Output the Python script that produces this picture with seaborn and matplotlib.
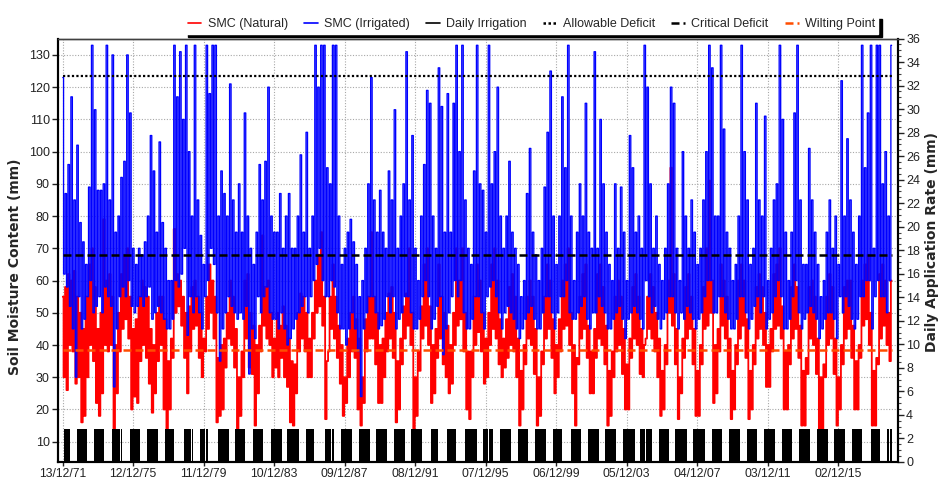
import numpy as np
import pandas as pd
import matplotlib
matplotlib.use("Agg")
import matplotlib.pyplot as plt
import matplotlib.dates as mdates
from matplotlib.lines import Line2D
from matplotlib.ticker import MultipleLocator
import seaborn as sns

# Monthly soil moisture readings (mm).
# First value is Dec 1971, then Jan..Dec for every year.
smc_irrigated_70s = [123,
    62, 87, 58, 96, 52, 117, 45, 85, 30, 102, 55, 78,    # 1972
    45, 72, 48, 65, 55, 89, 60, 133, 50, 113, 52, 88,    # 1973
    55, 88, 50, 90, 58, 133, 55, 85, 52, 130, 27, 75,    # 1974
    45, 80, 55, 92, 58, 97, 55, 130, 60, 112, 52, 70,    # 1975
    50, 65, 52, 70, 55, 68, 52, 72, 55, 80, 58, 105,     # 1976
    48, 94, 50, 75, 52, 103, 50, 78, 48, 70, 45, 60,     # 1977
    45, 60, 48, 133, 60, 117, 58, 131, 62, 110, 70, 133, # 1978
    43, 100, 55, 80, 50, 133, 55, 85, 50, 74, 45, 65]    # 1979
smc_irrigated_80s = [
    55, 133, 60, 118, 70, 133, 65, 133, 50, 80, 35, 94,
    45, 87, 50, 80, 55, 121, 52, 85, 50, 75, 48, 90,
    50, 75, 48, 112, 52, 80, 31, 70, 45, 65, 42, 75,
    55, 96, 50, 85, 55, 97, 58, 120, 50, 80, 48, 75,
    48, 75, 45, 87, 50, 70, 45, 80, 40, 87, 42, 70,
    45, 70, 48, 80, 50, 99, 52, 75, 55, 106, 50, 70,
    55, 80, 60, 133, 65, 120, 70, 133, 60, 133, 55, 95,
    55, 90, 60, 133, 58, 133, 50, 80, 45, 65, 45, 70,
    40, 75, 45, 79, 50, 72, 45, 65, 38, 55, 24, 60,
    45, 70, 50, 90, 55, 123, 55, 85, 50, 75, 45, 88]
smc_irrigated_90s = [
    46, 75, 48, 70, 55, 94, 50, 85, 55, 113, 45, 70,
    48, 80, 50, 90, 55, 131, 55, 85, 50, 105, 45, 70,
    45, 60, 48, 80, 55, 96, 60, 119, 55, 115, 45, 80,
    48, 70, 52, 126, 55, 114, 37, 75, 45, 118, 50, 75,
    55, 115, 60, 133, 55, 100, 60, 133, 50, 85, 45, 70,
    45, 65, 48, 94, 55, 133, 55, 90, 50, 88, 45, 75,
    55, 133, 58, 90, 60, 100, 55, 120, 50, 80, 45, 70,
    50, 80, 52, 97, 50, 75, 48, 70, 45, 65, 42, 55,
    45, 60, 48, 87, 50, 101, 52, 75, 48, 68, 45, 60,
    45, 70, 50, 89, 55, 106, 55, 125, 50, 80, 45, 65]
smc_irrigated_00s = [
    50, 80, 55, 117, 55, 95, 60, 133, 50, 80, 48, 60,
    48, 75, 50, 90, 52, 80, 55, 115, 48, 75, 45, 70,
    50, 131, 50, 70, 55, 110, 52, 90, 50, 75, 45, 65,
    45, 60, 48, 90, 50, 70, 52, 89, 48, 75, 42, 60,
    48, 105, 50, 95, 52, 75, 50, 80, 48, 70, 45, 133,
    60, 120, 55, 90, 50, 70, 52, 80, 48, 65, 45, 60,
    48, 70, 50, 90, 55, 120, 55, 115, 50, 70, 45, 60,
    50, 100, 48, 80, 52, 70, 50, 85, 48, 75, 45, 65,
    48, 70, 50, 85, 55, 100, 60, 133, 60, 126, 50, 80,
    50, 80, 55, 133, 55, 107, 50, 75, 48, 70, 45, 60]
smc_irrigated_10s = [
    45, 65, 48, 80, 55, 133, 55, 100, 50, 85, 45, 65,
    48, 70, 52, 115, 55, 85, 50, 80, 55, 111, 45, 60,
    48, 70, 50, 85, 55, 90, 60, 133, 55, 110, 45, 75,
    45, 60, 48, 75, 55, 112, 60, 133, 50, 85, 45, 65,
    48, 65, 50, 101, 52, 85, 50, 75, 48, 65, 42, 55,
    45, 60, 48, 75, 50, 85, 50, 70, 48, 80, 42, 65,
    55, 122, 50, 80, 55, 104, 52, 85, 48, 75, 45, 65,
    48, 80, 55, 133, 55, 95, 60, 112, 60, 133, 45, 70,
    55, 133, 60, 133, 55, 90, 55, 100, 50, 80, 60, 133]

smc_natural_70s = [55,
    30, 58, 26, 62, 40, 60, 38, 63, 28, 55, 30, 50,
    16, 45, 18, 55, 30, 65, 40, 70, 35, 58, 22, 45,
    18, 50, 25, 79, 40, 60, 38, 62, 40, 55, 14, 40,
    25, 50, 38, 62, 45, 68, 48, 70, 42, 55, 20, 45,
    24, 48, 22, 55, 35, 60, 40, 58, 36, 55, 28, 45,
    19, 40, 25, 50, 35, 55, 40, 55, 20, 48, 14, 35,
    20, 42, 36, 76, 50, 62, 52, 60, 46, 55, 36, 50,
    25, 52, 38, 58, 45, 60, 46, 55, 36, 50, 30, 42]
smc_natural_80s = [
    38, 55, 45, 65, 50, 60, 42, 55, 16, 36, 18, 40,
    20, 42, 33, 50, 42, 60, 40, 55, 33, 45, 14, 30,
    18, 38, 30, 60, 42, 62, 33, 50, 31, 46, 15, 40,
    25, 46, 38, 74, 46, 58, 42, 60, 40, 50, 30, 42,
    33, 50, 30, 46, 36, 52, 30, 46, 27, 42, 16, 35,
    15, 34, 25, 50, 38, 56, 42, 55, 38, 50, 30, 42,
    30, 50, 42, 60, 50, 68, 52, 75, 46, 55, 17, 35,
    38, 55, 45, 65, 42, 55, 36, 46, 28, 40, 18, 30,
    22, 42, 30, 50, 38, 55, 36, 48, 20, 42, 15, 30,
    22, 48, 38, 55, 42, 75, 42, 55, 34, 50, 22, 40]
smc_natural_90s = [
    22, 42, 30, 50, 38, 56, 42, 58, 36, 50, 16, 35,
    20, 42, 34, 52, 42, 56, 46, 70, 40, 50, 14, 30,
    18, 38, 32, 52, 42, 65, 46, 70, 40, 52, 22, 40,
    25, 45, 36, 65, 42, 55, 34, 50, 30, 46, 25, 40,
    28, 50, 40, 70, 46, 60, 48, 70, 38, 50, 20, 38,
    17, 38, 30, 55, 40, 65, 44, 60, 38, 50, 28, 42,
    30, 50, 40, 65, 45, 70, 42, 60, 34, 48, 30, 42,
    33, 48, 36, 58, 40, 62, 38, 55, 30, 42, 15, 32,
    20, 40, 34, 55, 42, 60, 40, 55, 31, 45, 15, 30,
    18, 38, 34, 55, 42, 65, 45, 60, 36, 48, 25, 40]
smc_natural_00s = [
    30, 48, 38, 60, 45, 65, 46, 70, 40, 50, 25, 40,
    15, 36, 34, 55, 42, 62, 45, 65, 36, 46, 25, 38,
    25, 45, 36, 62, 42, 65, 40, 58, 34, 46, 15, 32,
    18, 38, 30, 55, 38, 60, 40, 55, 31, 45, 20, 34,
    20, 42, 36, 58, 42, 62, 40, 55, 31, 45, 30, 40,
    42, 55, 45, 62, 42, 58, 38, 50, 30, 42, 18, 32,
    20, 40, 34, 60, 50, 95, 46, 62, 34, 45, 17, 30,
    25, 42, 36, 58, 42, 62, 45, 55, 34, 45, 18, 32,
    18, 40, 34, 58, 45, 70, 46, 91, 50, 60, 22, 40,
    25, 45, 38, 65, 46, 60, 42, 55, 30, 42, 17, 32]
smc_natural_10s = [
    20, 40, 34, 60, 42, 65, 46, 60, 36, 48, 17, 32,
    20, 40, 34, 58, 42, 62, 45, 58, 40, 50, 27, 40,
    27, 45, 38, 62, 45, 65, 46, 70, 42, 52, 20, 38,
    20, 40, 34, 58, 42, 65, 45, 58, 36, 46, 15, 32,
    15, 36, 31, 58, 42, 60, 40, 55, 31, 42, 14, 30,
    14, 34, 30, 55, 40, 62, 42, 58, 31, 42, 15, 30,
    20, 40, 34, 58, 42, 60, 45, 60, 36, 46, 20, 35,
    20, 40, 36, 60, 46, 65, 48, 68, 40, 50, 15, 32,
    15, 36, 34, 62, 42, 65, 46, 60, 40, 50, 35, 60]

# irrigation seasons (decimal years) and daily application (mm)
irrigation_start = [1972.04, 1972.74, 1973.71, 1974.74, 1975.27, 1975.77, 1976.75,
                    1977.77, 1978.81, 1979.30, 1979.75, 1980.08, 1980.74, 1981.74,
                    1982.72, 1983.78, 1984.69, 1985.73, 1986.82, 1987.20, 1987.73,
                    1988.77, 1989.73, 1990.76, 1991.70, 1992.82, 1993.73, 1994.75,
                    1995.79, 1996.14, 1996.73, 1997.75, 1998.72, 1999.77, 2000.78,
                    2001.74, 2002.72, 2003.74, 2004.71, 2005.03, 2005.75, 2006.69,
                    2007.71, 2008.76, 2009.74, 2010.76, 2011.72, 2012.74, 2013.71,
                    2014.73, 2015.71, 2016.71, 2017.77, 2018.72, 2018.87]
irrigation_end = [1972.36, 1973.33, 1974.31, 1975.20, 1975.31, 1976.33, 1977.37,
                  1978.28, 1979.22, 1979.36, 1980.00, 1980.21, 1981.36, 1982.27,
                  1983.33, 1984.37, 1985.35, 1986.20, 1987.15, 1987.34, 1988.37,
                  1989.36, 1990.36, 1991.35, 1992.34, 1993.25, 1994.24, 1995.45,
                  1996.07, 1996.34, 1997.37, 1998.34, 1999.36, 2000.27, 2001.36,
                  2002.36, 2003.35, 2004.39, 2004.96, 2005.37, 2006.35, 2007.34,
                  2008.38, 2009.36, 2010.36, 2011.34, 2012.33, 2013.33, 2014.31,
                  2015.33, 2016.32, 2017.26, 2018.30, 2018.83, 2018.98]
irrigation_rate = 2.8

allowable_deficit = 123.5
critical_deficit = 68.0
wilting_point = 38.3

first_day = "1971-12-13"
last_day = "2018-12-24"


def dec_year_to_num(y):
    yr = int(y)
    d = pd.Timestamp(yr, 1, 1) + pd.Timedelta(days=(y - yr) * 365.25)
    return mdates.date2num(d)


smc_irr = np.array(smc_irrigated_70s + smc_irrigated_80s + smc_irrigated_90s
                   + smc_irrigated_00s + smc_irrigated_10s, dtype=float)
smc_nat = np.array(smc_natural_70s + smc_natural_80s + smc_natural_90s
                   + smc_natural_00s + smc_natural_10s, dtype=float)
months = pd.date_range("1971-12-01", periods=len(smc_irr), freq="MS") + pd.Timedelta(days=14)
df = pd.DataFrame({"date": mdates.date2num(months), "natural": smc_nat, "irrigated": smc_irr})

sns.set_style("white")
plt.rcParams["font.family"] = ["Liberation Sans", "DejaVu Sans"]

fig = plt.figure(figsize=(9.39, 4.79), dpi=100)
ax = fig.add_axes([0.0618, 0.0355, 0.8943, 0.8841])
ax2 = ax.twinx()

ax.grid(True, color="#a8a8a8", linestyle=(0, (1, 1.5)), linewidth=0.8, zorder=0)

sns.lineplot(data=df, x="date", y="natural", ax=ax, color="#ff0000", linewidth=1.3,
             estimator=None, sort=False, drawstyle="steps-mid", zorder=2)
sns.lineplot(data=df, x="date", y="irrigated", ax=ax, color="#0000ff", linewidth=0.95,
             estimator=None, sort=False, drawstyle="steps-mid", zorder=3)

x0 = mdates.date2num(pd.Timestamp(first_day))
x1 = mdates.date2num(pd.Timestamp(last_day))
ax.plot([x0, x1], [allowable_deficit] * 2, color="black", linestyle=(0, (1, 1)), linewidth=1.6, zorder=4)
ax.plot([x0, x1], [critical_deficit] * 2, color="black", linestyle=(0, (3.2, 1.6)), linewidth=1.8, zorder=4)
ax.plot([x0, x1], [wilting_point] * 2, color="#ff4d00", linestyle=(0, (3.2, 1.6)), linewidth=1.8, zorder=4)

starts = np.array([dec_year_to_num(v) for v in irrigation_start])
ends = np.array([dec_year_to_num(v) for v in irrigation_end])
ax2.bar(starts, [irrigation_rate] * len(starts), width=ends - starts, align="edge",
        color="black", linewidth=0)

# axes ranges
ax.set_ylim(3.7, 135.1)
ax2.set_ylim(0, 36)
ax.set_xlim(x0 - 97, x0 + 17297)

ax.set_yticks(np.arange(10, 131, 10))
ax2.set_yticks(np.arange(0, 37, 2))
ax2.yaxis.set_minor_locator(MultipleLocator(0.5))
ticks = [x0 + 1460 * k for k in range(12)]
ax.set_xticks(ticks)
ax.xaxis.set_major_formatter(mdates.DateFormatter("%d/%m/%y"))

ax.tick_params(axis="y", which="major", labelsize=9, colors="#222222",
               direction="out", length=4, width=1, left=True, pad=2)
ax.tick_params(axis="x", which="major", labelsize=8.7, colors="#222222",
               direction="out", length=3, width=1, bottom=True, pad=1)
ax2.tick_params(axis="y", which="major", labelsize=9, colors="#222222",
                direction="out", length=4, width=1, pad=2)
ax2.tick_params(axis="y", which="minor", direction="out", length=2, width=0.8, color="#444444")

lab_font = {"family": "DejaVu Sans", "size": 10, "weight": "bold"}
ax.set_ylabel("Soil Moisture Content (mm)", fontdict=lab_font)
ax2.set_ylabel("Daily Application Rate (mm)", fontdict=lab_font)
ax.yaxis.set_label_coords(-0.043, 0.46)
ax2.yaxis.set_label_coords(1.032, 0.52)
ax.set_xlabel("")

for a in (ax, ax2):
    for side in ("left", "bottom", "right"):
        a.spines[side].set_color("black")
        a.spines[side].set_linewidth(1.5)
    a.spines["top"].set_color("#404040")
    a.spines["top"].set_linewidth(1.0)

handles = [
    Line2D([], [], color="#ff0000", lw=1.2),
    Line2D([], [], color="#0000ff", lw=1.2),
    Line2D([], [], color="black", lw=1.2),
    Line2D([], [], color="black", lw=1.8, linestyle=(0, (1, 1))),
    Line2D([], [], color="black", lw=1.8, linestyle=(0, (3.2, 1.6))),
    Line2D([], [], color="#ff4d00", lw=1.8, linestyle=(0, (3.2, 1.6))),
]
labels = ["SMC (Natural)", "SMC (Irrigated)", "Daily Irrigation",
          "Allowable Deficit", "Critical Deficit", "Wilting Point"]
fig.legend(handles, labels, loc="center", bbox_to_anchor=(0.566, 0.949), ncol=6,
           frameon=True, fancybox=False, facecolor="white", edgecolor="white", framealpha=1,
           shadow={"ox": 2.4, "oy": -2.4, "color": "black", "alpha": 1},
           fontsize=9, handlelength=1.1, handletextpad=0.5, columnspacing=1.3,
           borderpad=0.25, borderaxespad=0)

fig.savefig("out.png", dpi=100)
